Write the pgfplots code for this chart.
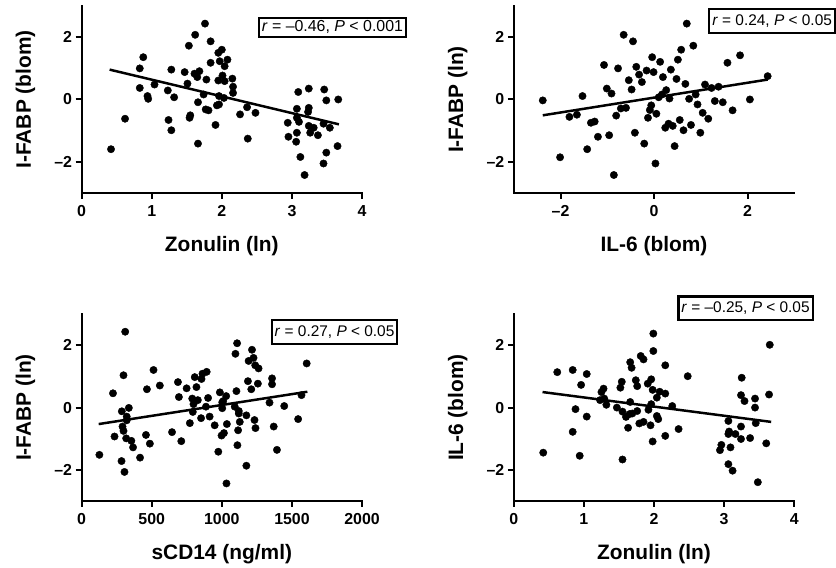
\documentclass[border=0pt]{standalone}
\usepackage{fontspec}
\setmainfont{Liberation Sans}
\usepackage{pgfplots}
\pgfplotsset{compat=1.18}

% one px of the reference = 1pt here
\newcommand{\lblfont}{\fontsize{21}{24}\selectfont\bfseries}
\newcommand{\tickfont}{\fontsize{16}{19}\selectfont\bfseries}
\newcommand{\boxfont}{\fontsize{15.5}{18}\selectfont}

\tikzset{rbox/.style={draw, line width=2.2pt, inner xsep=3pt, inner ysep=5.5pt, anchor=north west, font=\boxfont, fill=white}}

\pgfplotsset{
  panel/.style={
    scale only axis, width=282pt, height=187.5pt,
    anchor=south west, clip=false,
    axis x line*=bottom, axis y line*=left,
    axis line style={-, line width=2pt, line cap=rect},
    tick style={line width=2pt, black},
    tick align=outside, major tick length=6pt,
    ymin=-3, ymax=3, ytick={-2,0,2}, yticklabels={–2,0,2},
    tick label style={font=\tickfont},
    xticklabel style={yshift=-3pt},
    label style={font=\lblfont},
    xlabel style={at={(axis description cs:0.5,-0.285)}, anchor=center},
    ylabel style={at={(axis description cs:-0.2,0.5)}, anchor=center},
  },
  dots/.style={only marks, mark=*, mark size=3.7pt, black, mark options={fill=black, draw=black}},
  fit/.style={black, line width=2.5pt, no marks},
}

\begin{document}
\begin{tikzpicture}
\path (0,0) rectangle (836pt,570pt);

% top left: zonulin vs I-FABP (blom)
\begin{axis}[panel, at={(82pt,376.25pt)},
  xmin=0, xmax=4, xtick={0,1,2,3,4}, xticklabels={0,1,2,3,4},
  xlabel={Zonulin (ln)}, ylabel={I-FABP (blom)}]
\addplot[dots] coordinates {
(0.42,-1.60) (0.62,-0.62) (0.88,1.36) (0.83,1.00) (0.83,0.37) (0.94,0.11)
(0.95,0.02) (1.04,0.48) (1.28,0.96) (1.23,0.29) (1.32,0.07) (1.24,-0.66)
(1.28,-0.99) (1.47,0.88) (1.51,0.51) (1.53,1.73) (1.62,2.08) (1.76,2.44)
(1.84,1.87) (1.61,0.83) (1.68,0.91) (1.65,0.72) (1.78,0.64) (1.74,0.16)
(1.66,-0.09) (1.55,-0.51) (1.54,-0.59) (1.77,-0.32) (1.81,-0.35) (1.91,-0.82)
(1.66,-1.42) (1.84,1.18) (1.95,1.50) (2.00,1.60) (1.97,1.23) (2.04,1.07)
(1.95,0.61) (2.01,0.77) (2.04,0.59) (1.96,0.11) (2.03,0.05) (1.93,-0.19)
(1.96,-0.16) (2.08,1.28) (2.15,0.67) (2.16,0.41) (2.16,0.21) (2.36,-0.25)
(2.26,-0.48) (2.48,-0.43) (2.37,-1.26) (3.09,0.24) (3.24,0.35) (3.46,0.32)
(3.49,-0.03) (3.66,0.00) (3.07,-0.30) (3.24,-0.27) (3.23,-0.40) (3.07,-0.59)
(3.10,-0.72) (2.94,-0.75) (3.24,-0.85) (3.31,-0.91) (3.26,-1.07) (3.37,-1.15)
(3.45,-0.78) (3.54,-0.91) (3.07,-1.07) (2.95,-1.20) (3.06,-1.36) (3.12,-1.85)
(3.65,-1.50) (3.49,-1.71) (3.45,-2.06) (3.18,-2.43)
};
\addplot[fit] coordinates {(0.40,0.96) (3.67,-0.80)};
\node[rbox, inner ysep=3pt, font=\fontsize{16}{18}\selectfont] at (axis description cs:0.628,0.944) {\textit{r} = –0.46, \textit{P} < 0.001};
\end{axis}

% top right: IL-6 vs I-FABP (ln)
\begin{axis}[panel, at={(516.5pt,376.25pt)},
  xmin=-3, xmax=3, xtick={-2,0,2}, xticklabels={–2,0,2},
  xlabel={IL-6 (blom)}, ylabel={I-FABP (ln)}]
\addplot[dots] coordinates {
(-2.38,-0.03) (-2.01,-1.86) (-1.81,-0.56) (-1.65,-0.49) (-1.53,0.11) (-1.43,-1.60)
(-1.35,-0.75) (-1.27,-0.71) (-1.20,-1.20) (-1.07,1.11) (-1.01,0.35) (-0.91,0.19)
(-0.96,-1.15) (-0.86,-2.43) (-0.81,-0.52) (-0.77,1.00) (-0.71,-0.29) (-0.60,-0.27)
(-0.65,2.08) (-0.45,1.87) (-0.54,0.62) (-0.48,0.32) (-0.38,1.05) (-0.32,0.80)
(-0.26,0.56) (-0.16,0.93) (-0.41,-1.07) (-0.21,-1.42) (-0.13,-0.59) (-0.09,-0.34)
(-0.06,-0.19) (-0.04,1.36) (-0.01,0.88) (0.03,-2.06) (0.05,-0.46) (0.70,2.44)
(0.84,1.73) (0.58,1.60) (0.51,1.28) (0.13,1.21) (0.36,0.96) (0.19,0.72)
(0.48,0.66) (0.67,0.50) (1.09,0.48) (1.23,0.37) (1.38,0.41) (1.57,1.18)
(1.84,1.42) (2.43,0.75) (0.26,0.30) (0.17,0.16) (0.10,0.07) (0.33,0.03)
(0.75,0.02) (0.89,0.16) (0.93,-0.16) (1.30,-0.05) (1.47,-0.09) (2.05,0.00)
(1.68,-0.35) (1.04,-0.43) (1.16,-0.62) (0.24,-0.91) (0.31,-0.78) (0.40,-0.85)
(0.55,-0.66) (0.63,-0.99) (0.79,-0.82) (0.99,-1.07) (0.44,-1.50)
};
\addplot[fit] coordinates {(-2.38,-0.51) (2.43,0.64)};
\node[rbox] at (axis description cs:0.693,0.990) {\textit{r} = 0.24, \textit{P} < 0.05};
\end{axis}

% bottom left: sCD14 vs I-FABP (ln)
\begin{axis}[panel, at={(82pt,66.5pt)},
  xmin=0, xmax=2000, xtick={0,500,1000,1500,2000}, xticklabels={0,500,1000,1500,2000},
  xlabel={sCD14 (ng/ml)}, ylabel={I-FABP (ln)}]
\addplot[dots] coordinates {
(127,-1.52) (224,0.46) (235,-0.93) (287,-0.12) (337,-0.01) (311,2.44)
(299,1.04) (322,-0.29) (322,-0.41) (292,-0.61) (299,-0.75) (318,-0.99)
(355,-1.07) (367,-1.28) (285,-1.72) (306,-2.07) (417,-1.61) (459,-0.88)
(487,-1.16) (466,0.59) (513,1.21) (558,0.71) (645,-0.79) (711,-1.08)
(687,0.82) (694,0.34) (749,0.62) (772,-0.50) (789,0.29) (798,0.11)
(793,-0.14) (807,0.98) (819,0.66) (829,0.24) (852,-0.34) (855,0.92)
(862,1.09) (892,1.15) (887,0.03) (902,0.31) (913,-0.29) (949,-0.57)
(975,-1.42) (986,0.49) (998,-0.90) (1015,-0.82) (1003,0.17) (1003,-0.02)
(1031,0.37) (1036,-0.53) (1033,-2.44) (1109,2.07) (1097,1.73) (1215,1.86)
(1226,1.60) (1191,1.50) (1238,1.36) (1262,1.26) (1605,1.42) (1186,0.85)
(1257,0.77) (1358,0.94) (1358,0.75) (1210,0.59) (1104,0.53) (1010,0.21)
(1092,0.03) (1121,-0.11) (1121,-0.19) (1175,-0.25) (1233,-0.40) (1128,-0.46)
(1116,-0.73) (1240,-0.66) (1370,-0.61) (1340,0.16) (1445,0.05) (1568,0.40)
(1544,-0.37) (1111,-1.21) (1393,-1.36) (1175,-1.87)
};
\addplot[fit] coordinates {(122,-0.53) (1610,0.51)};
\node[rbox] at (axis description cs:0.674,0.975) {\textit{r} = 0.27, \textit{P} < 0.05};
\end{axis}

% bottom right: zonulin vs IL-6 (blom)
\begin{axis}[panel, at={(516.5pt,66.5pt)},
  xmin=0, xmax=4, xtick={0,1,2,3,4}, xticklabels={0,1,2,3,4},
  xlabel={Zonulin (ln)}, ylabel={IL-6 (blom)}]
\addplot[dots] coordinates {
(0.42,-1.45) (0.62,1.14) (0.84,1.21) (1.04,1.08) (0.96,0.73) (0.88,-0.05)
(1.04,-0.29) (0.84,-0.78) (0.94,-1.55) (1.28,0.61) (1.25,0.50) (1.23,0.24)
(1.29,0.29) (1.32,0.09) (1.54,0.83) (1.52,0.64) (1.47,0.00) (1.55,-0.13)
(1.66,0.18) (1.66,1.46) (1.68,1.28) (1.81,1.66) (1.85,1.55) (1.74,0.88)
(1.76,0.69) (1.60,-0.30) (1.65,-0.21) (1.69,-0.19) (1.76,-0.11) (1.63,-0.65)
(1.55,-1.67) (1.79,-0.51) (1.85,-0.46) (1.91,0.77) (1.96,0.91) (1.98,0.57)
(1.92,-0.07) (1.96,0.11) (1.95,-0.57) (1.99,2.38) (1.99,1.82) (1.98,-1.09)
(2.16,1.36) (2.48,1.01) (2.08,0.51) (2.16,0.45) (2.04,0.32) (2.26,0.05)
(2.04,-0.27) (2.06,-0.37) (2.35,-0.69) (2.16,-0.91) (3.25,0.96) (3.24,0.40)
(3.29,0.21) (3.44,0.29) (3.44,0.00) (3.65,2.02) (3.64,0.42) (3.06,-0.43)
(3.24,-0.61) (3.45,-0.50) (3.07,-0.77) (3.06,-0.85) (3.16,-0.85) (3.24,-1.01)
(3.37,-0.98) (3.60,-1.15) (2.96,-1.20) (2.94,-1.37) (3.09,-1.28) (3.06,-1.82)
(3.12,-2.03) (3.48,-2.40)
};
\addplot[fit] coordinates {(0.41,0.50) (3.67,-0.46)};
\node[rbox] at (axis description cs:0.583,1.101) {\textit{r} = –0.25, \textit{P} < 0.05};
\end{axis}
\end{tikzpicture}
\end{document}
